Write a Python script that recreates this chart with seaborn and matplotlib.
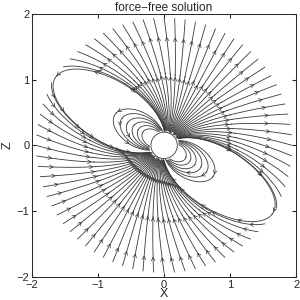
import numpy as np
import matplotlib
matplotlib.use("Agg")
import matplotlib.pyplot as plt
from matplotlib.patches import FancyArrowPatch
import seaborn as sns

# field model parameters (tilted dipole + smoothed split monopole)
tilt_deg = 58.0
dipole_moment = 1.0
monopole_strength = 1.1
sheet_width = 0.35
sphere_radius = 0.2
domain_radius = 1.97

# seeding of the field lines
n_outer_seeds = 76
outer_seed_radius = 1.94
loop_seed_radii = [0.3, 0.38, 0.46, 0.55, 0.65, 0.76, 0.88]
arrow_spacing = 0.6
arrow_min_radius = 0.5

axis_ticks = [-2, -1, 0, 1, 2]
axis_limits = [-2, 2]

sns.set_style("ticks")
plt.rcParams["font.family"] = ["Liberation Sans", "DejaVu Sans"]

x = np.linspace(-2, 2, 321)
z = np.linspace(-2, 2, 321)
X, Z = np.meshgrid(x, z)
R = np.maximum(np.hypot(X, Z), 1e-3)
rx, rz = X / R, Z / R
nx, nz = np.cos(np.radians(tilt_deg)), np.sin(np.radians(tilt_deg))
mu = rx * nx + rz * nz

Bx = dipole_moment * (3 * mu * rx - nx) / R**3 + monopole_strength * np.tanh(mu / sheet_width) * rx / R**2
Bz = dipole_moment * (3 * mu * rz - nz) / R**3 + monopole_strength * np.tanh(mu / sheet_width) * rz / R**2

outside = (R < sphere_radius) | (R > domain_radius)
Bx = np.ma.masked_where(outside, Bx)
Bz = np.ma.masked_where(outside, Bz)

ang = np.linspace(0, 2 * np.pi, n_outer_seeds, endpoint=False)
seeds = [np.column_stack([outer_seed_radius * np.cos(ang), outer_seed_radius * np.sin(ang)])]
eq = np.radians(tilt_deg + 90)
for r in loop_seed_radii:
    seeds.append([[r * np.cos(eq), r * np.sin(eq)], [-r * np.cos(eq), -r * np.sin(eq)]])
seeds = np.vstack(seeds)

fig = plt.figure(figsize=(3, 3), dpi=100)
ax = fig.add_axes([0.107, 0.077, 0.88, 0.877])
sp = ax.streamplot(X, Z, Bx, Bz, start_points=seeds, color="#3a3a3a", linewidth=0.6,
                   arrowstyle="-", arrowsize=0.01, broken_streamlines=False,
                   integration_direction="both", density=4, maxlength=40)
sp.arrows.set_visible(False)

# add arrows along each streamline
for ln in sp.lines.get_segments():
    d = np.hypot(*np.diff(ln, axis=0).T)
    s = np.concatenate([[0], np.cumsum(d)])
    for t in np.arange(arrow_spacing * 0.4, s[-1] - 0.15, arrow_spacing):
        p = np.array([np.interp(t, s, ln[:, 0]), np.interp(t, s, ln[:, 1])])
        if np.hypot(*p) < arrow_min_radius:
            continue
        q = np.array([np.interp(t - 0.03, s, ln[:, 0]), np.interp(t - 0.03, s, ln[:, 1])])
        ax.add_patch(FancyArrowPatch(q, p, arrowstyle="->,head_length=0.4,head_width=0.22",
                                     color="#3a3a3a", lw=0.5, mutation_scale=6,
                                     shrinkA=0, shrinkB=0))

ax.add_patch(plt.Circle((0, 0), sphere_radius, facecolor="white", edgecolor="#3a3a3a", lw=0.6, zorder=5))

ax.set_xlim(axis_limits)
ax.set_ylim(axis_limits)
ax.set_xticks(axis_ticks)
ax.set_yticks(axis_ticks)
ax.tick_params(direction="in", labelsize=8, length=3, top=True, right=True, pad=2)
for sp_ in ax.spines.values():
    sp_.set_linewidth(0.7)
ax.set_title("force\u2212free solution", fontsize=8.5, pad=2)
ax.set_xlabel("X", fontsize=9, labelpad=-1)
ax.set_ylabel("Z", fontsize=9, labelpad=2)

fig.savefig("out.png", dpi=100)
